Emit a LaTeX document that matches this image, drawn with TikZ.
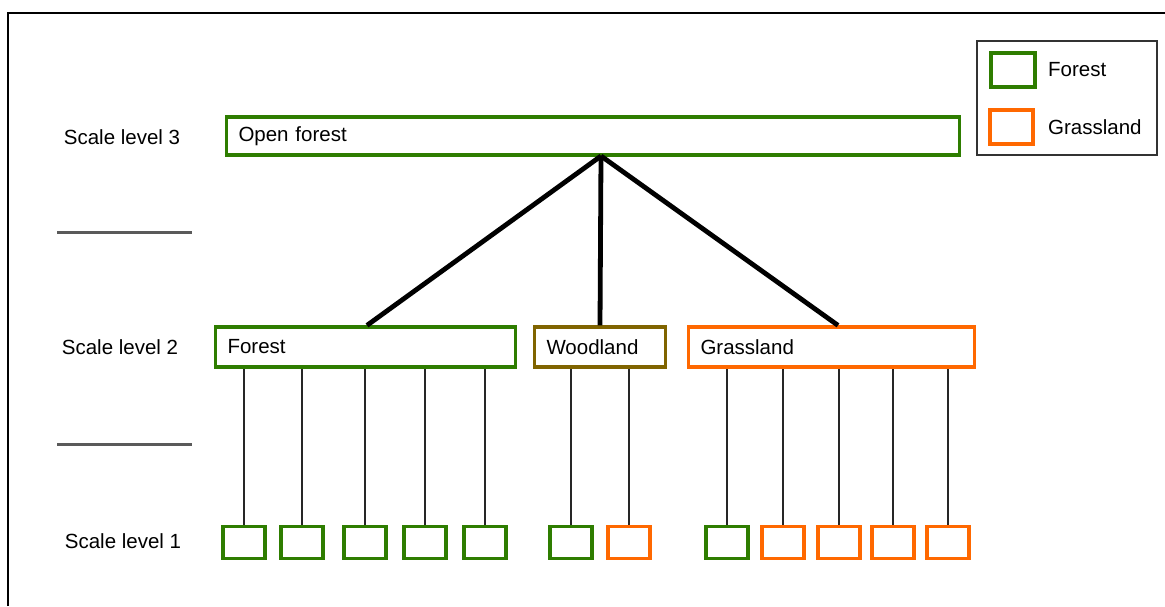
\documentclass[tikz,border=0pt]{standalone}
\usepackage{fontspec}
\setmainfont{Liberation Sans}
\usepackage{tikz}
\usetikzlibrary{positioning, calc}
\usepackage{xcolor}
\definecolor{forestgreen}{RGB}{46,125,0}
\definecolor{grassorange}{RGB}{255,104,0}
\definecolor{woodolive}{RGB}{128,100,0}
\definecolor{sepgray}{RGB}{90,90,90}

\begin{document}
\begin{tikzpicture}[
    x=1pt, y=-1pt,
    lvlbox/.style={rectangle, draw, line width=3.3pt, minimum height=40pt, inner xsep=12pt, inner ysep=0pt, align=left, font=\fontsize{20.5}{24}\selectfont},
    leaf/.style={rectangle, draw, line width=3.3pt, minimum width=42pt, minimum height=32pt, inner sep=0pt},
    scalelbl/.style={font=\fontsize{20.5}{24}\selectfont},
    branch/.style={line width=4.8pt},
    twig/.style={line width=1.8pt, black!85},
    sep/.style={line width=3pt, sepgray}
]
    \useasboundingbox (0,0) rectangle (1165,606);
    \draw[line width=2pt] (8,606) -- (8,13) -- (1165,13);

    % Scale levels
    \node[scalelbl] (lvl3) at (122,137) {Scale level 3};
    \node[scalelbl] (lvl2) at (120,347) {Scale level 2};
    \node[scalelbl] (lvl1) at (123,541) {Scale level 1};
    \draw[sep] (57,232) -- (192,232);
    \draw[sep] (57,444) -- (192,444);

    % Boxes
    \node[lvlbox, draw=forestgreen, minimum height=38pt, text width=709pt] (open) at (593,136) {Open forest};
    \node[lvlbox, draw=forestgreen, text width=276pt] (forest) at (365.5,347) {Forest};
    \node[lvlbox, draw=woodolive, text width=107pt] (woodland) at (600,347) {Woodland};
    \node[lvlbox, draw=grassorange, text width=262pt] (grassland) at (831.5,347) {Grassland};

    % Branches
    \coordinate (hub) at (601,156);
    \draw[branch] (hub) -- ($(forest.north)+(1.5,0)$);
    \draw[branch] (hub) -- (woodland.north);
    \draw[branch] (hub) -- ($(grassland.north)+(6.5,0)$);

    % Leaves
    \foreach \x/\c/\p [count=\i] in {244/forestgreen/forest, 302/forestgreen/forest, 365/forestgreen/forest, 425/forestgreen/forest, 485/forestgreen/forest,
        571/forestgreen/woodland, 629/grassorange/woodland,
        727/forestgreen/grassland, 783/grassorange/grassland, 839/grassorange/grassland, 893/grassorange/grassland, 948/grassorange/grassland} {
        \node[leaf, draw=\c] (leaf\i) at (\x,542.5) {};
        \draw[twig] (leaf\i.north) -- (leaf\i.north |- \p.south);
    }

    % Legend
    \node[rectangle, draw=black!80, line width=2pt, minimum width=180pt, minimum height=114pt] (legend) at (1067,98) {};
    \node[leaf, draw=forestgreen, minimum width=44pt, minimum height=34pt] (keyforest) at (1013,70) {};
    \node[scalelbl, right=8pt of keyforest] {Forest};
    \node[leaf, draw=grassorange, minimum width=43pt, minimum height=34pt] (keygrass) at (1011.5,127) {};
    \node[scalelbl, right=10pt of keygrass] {Grassland};
\end{tikzpicture}
\end{document}
